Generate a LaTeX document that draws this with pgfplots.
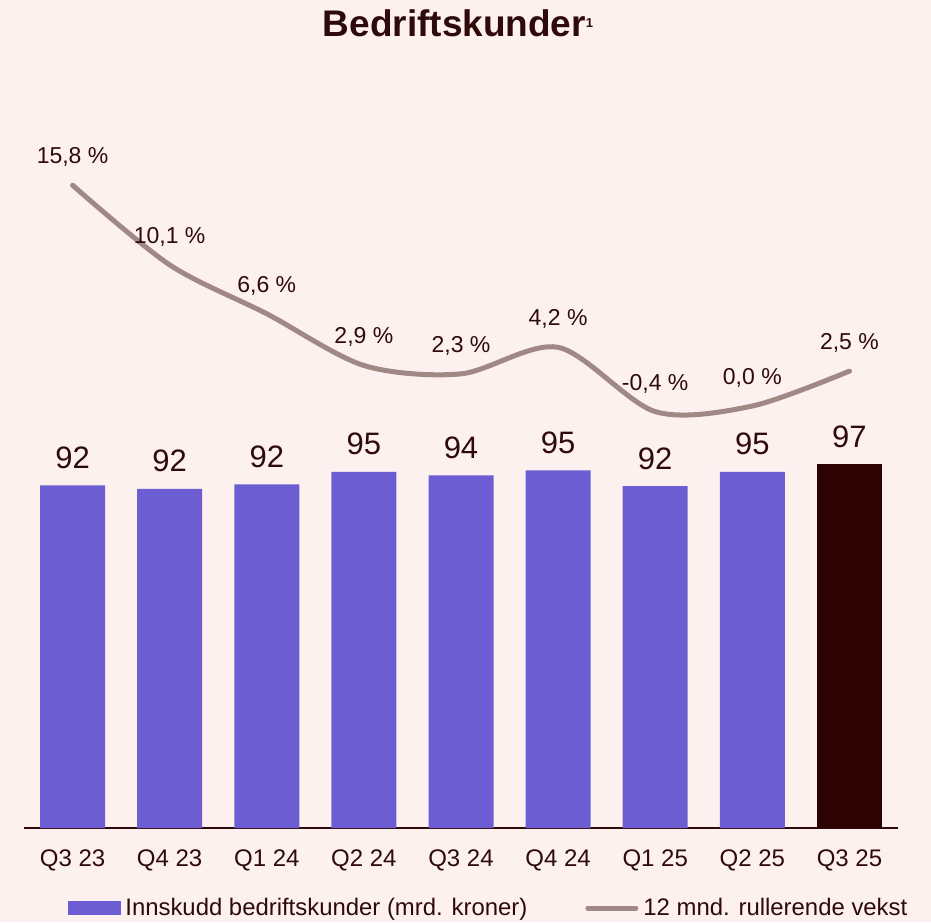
\documentclass[border=0pt]{standalone}
\usepackage{pgfplots}
\pgfplotsset{compat=1.18}
\usepackage{fontspec}
\setmainfont{Liberation Sans}
\definecolor{bg}{HTML}{FDF1F0}
\definecolor{barp}{HTML}{6C5ED2}
\definecolor{bardark}{HTML}{2D0202}
\definecolor{linec}{HTML}{A08884}
\definecolor{txt}{HTML}{2E0A0A}
\begin{document}
\begin{tikzpicture}
\fill[bg] (0pt,0pt) rectangle (931pt,922pt);
\node[font=\fontsize{37}{40}\selectfont\bfseries, text=txt, anchor=base, inner sep=0pt] at (458pt,885pt) {Bedriftskunder{\fontsize{13}{13}\selectfont\raisebox{9pt}{1}}};
\begin{axis}[
  at={(24pt,94pt)}, anchor=south west, width=874pt, height=728pt, scale only axis,
  xmin=-0.5, xmax=8.5, ymin=0, ymax=194,
  hide y axis, axis x line*=bottom,
  x axis line style={color=txt, line width=1.5pt},
  xtick={0,...,8},
  xticklabels={Q3 23,Q4 23,Q1 24,Q2 24,Q3 24,Q4 24,Q1 25,Q2 25,Q3 25},
  major tick length=0pt,
  xticklabel style={font=\fontsize{24}{24}\selectfont, text=txt, anchor=base, yshift=-38pt, inner sep=0pt},
  ybar, bar width=65pt, bar shift=0pt,
  point meta=explicit symbolic,
  nodes near coords,
  nodes near coords style={font=\fontsize{31}{31}\selectfont, text=txt, anchor=base, yshift=17pt, inner sep=0pt},
  clip=false,
]
\addplot[fill=barp, draw=none] coordinates {
  (0,91.3) [92] (1,90.4) [92] (2,91.6) [92] (3,94.9) [95]
  (4,94.0) [94] (5,95.3) [95] (6,91.1) [92] (7,94.9) [95]
};
\addplot[fill=bardark, draw=none] coordinates {(8,97.0) [97]};
\end{axis}
\begin{axis}[
  at={(24pt,94pt)}, anchor=south west, width=874pt, height=728pt, scale only axis,
  xmin=-0.5, xmax=8.5, ymin=-30.2, ymax=21.9,
  hide axis, clip=false,
  legend columns=2,
  legend style={at={(0.0503,-0.1099)}, anchor=west, draw=none, fill=none,
    inner sep=0pt, outer sep=0pt, column sep=5pt,
    nodes={inner sep=0pt, text=txt, font=\fontsize{23.9}{24}\selectfont},
    /tikz/every even column/.append style={column sep=58pt}},
  legend cell align=left,
]
\addlegendimage{legend image code/.code={\fill[barp] (0pt,-6.5pt) rectangle (52pt,6.5pt);}}
\addlegendentry{Innskudd bedriftskunder (mrd. kroner)}
\addplot[linec, line width=5pt, smooth, line cap=round,
  point meta=explicit symbolic, nodes near coords,
  nodes near coords style={font=\fontsize{23}{23}\selectfont, text=txt, anchor=base, yshift=21.5pt, inner sep=0pt},
  legend image code/.code={\draw[linec, line width=5pt, line cap=round] (2.5pt,0pt) -- (50.5pt,0pt);}]
  coordinates {
  (0,15.8) [15,8 \%] (1,10.1) [10,1 \%] (2,6.6) [6,6 \%] (3,2.9) [2,9 \%]
  (4,2.3) [2,3 \%] (5,4.2) [4,2 \%] (6,-0.4) [-0,4 \%] (7,0.0) [0,0 \%] (8,2.5) [2,5 \%]
};
\addlegendentry{12 mnd. rullerende vekst}
\end{axis}
\end{tikzpicture}
\end{document}
